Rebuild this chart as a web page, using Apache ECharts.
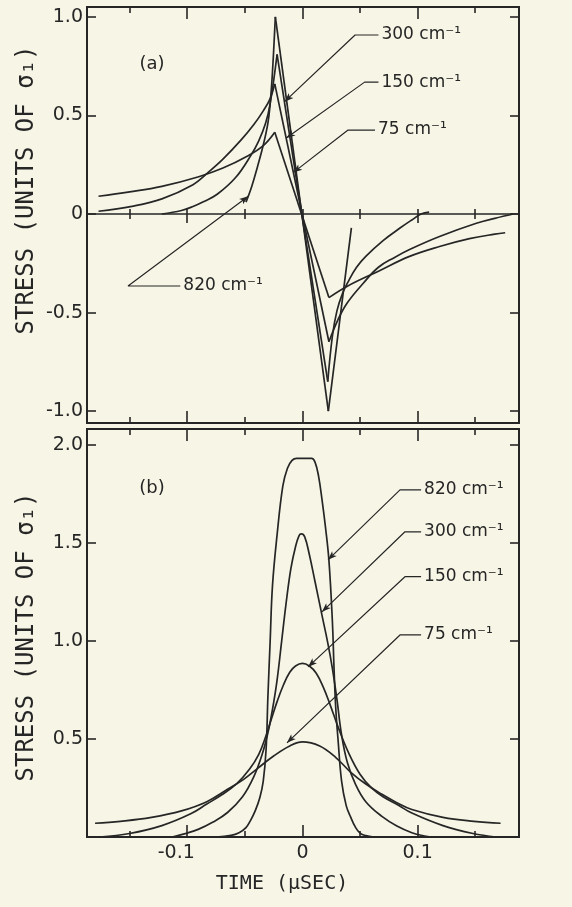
<!DOCTYPE html>
<html><head><meta charset="utf-8">
<script src="https://cdn.jsdelivr.net/npm/echarts@6/dist/echarts.min.js"></script>
<style>html,body{margin:0;padding:0;background:#f7f5e6;}#c{width:572px;height:907px;}</style>
</head><body><div id="c"></div>
<script>
// ---------------- data ----------------
const xMajorTicks = [-0.1, 0, 0.1];
const xMinorTicks = [-0.15, -0.05, 0.05, 0.15];
const xTickLabels = [-0.1, 0, 0.1];
const yTicksA = [-1, -0.5, 0, 0.5, 1];
const yTicksB = [0.5, 1, 1.5, 2];

// Panel (a): rising branch up to the peak, falling tail from the trough
const a75Rise  = [[-0.177,0.09],[-0.15,0.112],[-0.122,0.140],[-0.09,0.189],[-0.069,0.233],[-0.048,0.293],[-0.034,0.347],[-0.024,0.415]];
const a75Tail  = [[0.023,-0.424],[0.039,-0.366],[0.066,-0.29],[0.093,-0.215],[0.119,-0.165],[0.145,-0.125],[0.167,-0.102],[0.176,-0.095]];
const a150Rise = [[-0.177,0.014],[-0.148,0.039],[-0.122,0.077],[-0.095,0.149],[-0.082,0.21],[-0.069,0.278],[-0.053,0.377],[-0.042,0.455],[-0.034,0.523],[-0.028,0.585],[-0.024,0.66]];
const a150Tail = [[0.023,-0.648],[0.031,-0.534],[0.039,-0.45],[0.053,-0.35],[0.066,-0.27],[0.08,-0.22],[0.093,-0.18],[0.119,-0.114],[0.151,-0.047],[0.167,-0.022],[0.183,0.0]];
const a300Rise = [[-0.122,0.0],[-0.105,0.018],[-0.095,0.038],[-0.086,0.062],[-0.074,0.10],[-0.058,0.185],[-0.045,0.295],[-0.038,0.37],[-0.032,0.46],[-0.028,0.56],[-0.022,0.81]];
const a300Tail = [[0.022,-0.85],[0.026,-0.62],[0.030,-0.49],[0.035,-0.40],[0.040,-0.34],[0.047,-0.27],[0.055,-0.215],[0.070,-0.135],[0.085,-0.07],[0.095,-0.03],[0.103,0.0],[0.110,0.01]];
const a820Rise = [[-0.049,0.06],[-0.044,0.14],[-0.039,0.24],[-0.034,0.35],[-0.030,0.46],[-0.028,0.56],[-0.026,0.72],[-0.0235,1.0]];
const a820Tail = [[0.0225,-1.0],[0.0325,-0.535],[0.0425,-0.07]];

// Panel (b)
const b75  = [[-0.18,0.07],[-0.158,0.08],[-0.131,0.10],[-0.105,0.133],[-0.083,0.18],[-0.065,0.243],[-0.051,0.294],[-0.038,0.354],[-0.025,0.413],[-0.011,0.464],[0.0,0.485],[0.015,0.464],[0.029,0.405],[0.042,0.33],[0.055,0.27],[0.069,0.218],[0.082,0.175],[0.095,0.14],[0.122,0.10],[0.149,0.08],[0.172,0.07]];
const b150 = [[-0.176,0.0],[-0.15,0.018],[-0.122,0.058],[-0.097,0.118],[-0.083,0.168],[-0.070,0.215],[-0.057,0.272],[-0.046,0.345],[-0.038,0.42],[-0.032,0.51],[-0.027,0.60],[-0.022,0.69],[-0.0165,0.775],[-0.011,0.84],[-0.006,0.872],[0.0,0.885],[0.006,0.872],[0.012,0.835],[0.018,0.765],[0.024,0.675],[0.031,0.56],[0.040,0.43],[0.050,0.32],[0.060,0.25],[0.070,0.205],[0.083,0.163],[0.095,0.122],[0.122,0.058],[0.148,0.018],[0.168,0.0]];
const b300 = [[-0.113,0.0],[-0.100,0.02],[-0.090,0.04],[-0.078,0.075],[-0.065,0.125],[-0.052,0.205],[-0.042,0.31],[-0.035,0.42],[-0.030,0.53],[-0.026,0.65],[-0.022,0.80],[-0.018,1.0],[-0.014,1.20],[-0.010,1.37],[-0.006,1.48],[-0.003,1.535],[-0.001,1.545],[0.002,1.53],[0.006,1.44],[0.011,1.30],[0.017,1.13],[0.022,0.99],[0.026,0.86],[0.030,0.70],[0.034,0.52],[0.039,0.38],[0.046,0.27],[0.055,0.18],[0.069,0.105],[0.082,0.056],[0.095,0.022],[0.106,0.005],[0.112,0.0]];
const b820 = [[-0.075,0.0],[-0.062,0.008],[-0.055,0.022],[-0.049,0.048],[-0.045,0.085],[-0.041,0.133],[-0.037,0.2],[-0.034,0.285],[-0.0315,0.45],[-0.030,0.71],[-0.028,1.0],[-0.026,1.28],[-0.022,1.54],[-0.017,1.79],[-0.013,1.88],[-0.009,1.92],[-0.005,1.93],[0.0,1.93],[0.008,1.93],[0.011,1.91],[0.014,1.84],[0.017,1.72],[0.020,1.58],[0.023,1.41],[0.026,1.10],[0.0275,0.85],[0.029,0.65],[0.031,0.49],[0.034,0.285],[0.038,0.16],[0.042,0.10],[0.046,0.05],[0.050,0.02],[0.055,0.007],[0.062,0.0]];

// Label leader lines (data coordinates: tip on curve, elbow, start of text)
const leaderTextsA = ['300 cm⁻¹', '150 cm⁻¹', '75 cm⁻¹', '820 cm⁻¹'];
const leaderPtsA = [
  [[-0.0155,0.57],[0.0457,0.908],[0.066,0.908]],
  [[-0.014,0.385],[0.054,0.669],[0.066,0.669]],
  [[-0.008,0.21],[0.0396,0.426],[0.063,0.426]],
  [[-0.047,0.09],[-0.1514,-0.365],[-0.106,-0.365]]
];
const leaderTextsB = ['820 cm⁻¹', '300 cm⁻¹', '150 cm⁻¹', '75 cm⁻¹'];
const leaderPtsB = [
  [[0.0222,1.413],[0.0847,1.77],[0.103,1.77]],
  [[0.017,1.148],[0.089,1.556],[0.103,1.556]],
  [[0.0049,0.867],[0.089,1.327],[0.103,1.327]],
  [[-0.0134,0.48],[0.0847,1.03],[0.103,1.03]]
];

// ---------------- chart ----------------
const INK = '#262626';
const XMIN = -0.187, XMAX = 0.188;
const chart = echarts.init(document.getElementById('c'), null, {renderer: 'canvas'});

function xAx(grid, pos, ticks, len, opts) {
  return Object.assign({
    type: 'value', gridIndex: grid, position: pos, min: XMIN, max: XMAX,
    axisLine: {show: true, onZero: false, lineStyle: {color: INK, width: 2}},
    axisTick: {show: true, inside: true, length: len, customValues: ticks, lineStyle: {color: INK, width: 1.6}},
    axisLabel: {show: false}, splitLine: {show: false}
  }, opts || {});
}
function yAx(grid, pos, min, max, ticks, labels) {
  return {
    type: 'value', gridIndex: grid, position: pos, min: min, max: max,
    axisLine: {show: true, onZero: false, lineStyle: {color: INK, width: 2}},
    axisTick: {show: true, inside: true, length: 9, customValues: ticks, lineStyle: {color: INK, width: 1.6}},
    axisLabel: labels ? {show: true, customValues: ticks, margin: 4, fontFamily: 'DejaVu Sans', fontSize: 19, color: INK,
      formatter: v => v === 0 ? '0' : v.toFixed(1)} : {show: false},
    splitLine: {show: false}
  };
}

const xAxes = [
  xAx(0, 'bottom', xMajorTicks, 12),
  xAx(0, 'bottom', xMinorTicks, 6),
  xAx(0, 'top', xMajorTicks, 12),
  xAx(0, 'top', xMinorTicks, 6),
  // zero line of panel (a)
  xAx(0, 'bottom', xMajorTicks, 9, {axisLine: {show: true, onZero: true, onZeroAxisIndex: 0, lineStyle: {color: INK, width: 1.5}},
    axisTick: {show: true, inside: false, length: 9, customValues: xMajorTicks, lineStyle: {color: INK, width: 1.6}}}),
  xAx(0, 'bottom', xMinorTicks, 5, {axisLine: {show: false, onZero: true, onZeroAxisIndex: 0},
    axisTick: {show: true, inside: false, length: 5, customValues: xMinorTicks, lineStyle: {color: INK, width: 1.6}}}),
  xAx(0, 'bottom', xMajorTicks.concat(xMinorTicks), 5, {axisLine: {show: false, onZero: true, onZeroAxisIndex: 0},
    axisTick: {show: true, inside: true, length: 5, customValues: xMajorTicks.concat(xMinorTicks), lineStyle: {color: INK, width: 1.6}}}),
  // panel (b)
  xAx(1, 'bottom', xMajorTicks, 12, {axisLabel: {show: true, customValues: xTickLabels, margin: 7,
    fontFamily: 'DejaVu Sans', fontSize: 19, color: INK,
    formatter: v => v === 0 ? '0' : (v < 0 ? '{neg|' + v.toFixed(1) + '}' : v.toFixed(1)),
    rich: {neg: {padding: [0, 22, 0, 0], fontFamily: 'DejaVu Sans', fontSize: 19, color: INK}}}}),
  xAx(1, 'bottom', xMinorTicks, 6),
  xAx(1, 'top', xMajorTicks, 12),
  xAx(1, 'top', xMinorTicks, 6)
];
const yAxes = [
  yAx(0, 'left', -1.06, 1.05, yTicksA, true),
  yAx(0, 'right', -1.06, 1.05, yTicksA, false),
  yAx(1, 'left', 0, 2.08, yTicksB, true),
  yAx(1, 'right', 0, 2.08, yTicksB, false)
];

function line(data, xi, yi, smooth, width) {
  return {type: 'line', data: data, xAxisIndex: xi, yAxisIndex: yi, symbol: 'none', showSymbol: false,
    smooth: smooth ? 0.4 : false, silent: true, animation: false, z: 3,
    lineStyle: {color: INK, width: width || 1.7}};
}
const series = [];
[[a75Rise, a75Tail], [a150Rise, a150Tail], [a300Rise, a300Tail], [a820Rise, a820Tail]].forEach(([rise, tail]) => {
  series.push(line(rise, 0, 0, true));
  series.push(line([rise[rise.length - 1], tail[0]], 0, 0, false));
  series.push(line(tail, 0, 0, true));
});
[b75, b150, b300, b820].forEach(d => series.push(line(d, 7, 2, true)));

const leaderSeries = [];
function leader(pts, text, xi, yi) {
  const s = line(pts.slice(), xi, yi, false, 1.2);
  s.endLabel = {show: true, formatter: text, distance: 3, fontFamily: 'DejaVu Sans', fontSize: 17, color: INK};
  s.showSymbol = true;
  s.symbol = 'none';
  s.itemStyle = {color: INK};
  leaderSeries.push({s: s, pts: pts, xi: xi, yi: yi});
  return s;
}
leaderPtsA.forEach((p, i) => series.push(leader(p, leaderTextsA[i], 0, 0)));
leaderPtsB.forEach((p, i) => series.push(leader(p, leaderTextsB[i], 7, 2)));

const yTitle = 'STRESS (UNITS OF σ₁)';
chart.setOption({
  backgroundColor: '#f7f5e6',
  animation: false,
  grid: [
    {left: 87, top: 7, width: 432, height: 416, outerBoundsMode: 'none'},
    {left: 87, top: 429, width: 432, height: 408, outerBoundsMode: 'none'}
  ],
  xAxis: xAxes,
  yAxis: yAxes,
  series: series,
  graphic: [
    {type: 'text', x: 27, y: 190, rotation: Math.PI / 2, style: {text: yTitle, fontFamily: 'DejaVu Sans Mono', fontSize: 24, fill: INK, align: 'center', verticalAlign: 'middle'}},
    {type: 'text', x: 27, y: 637, rotation: Math.PI / 2, style: {text: yTitle, fontFamily: 'DejaVu Sans Mono', fontSize: 24, fill: INK, align: 'center', verticalAlign: 'middle'}},
    {type: 'text', x: 282, y: 884, style: {text: 'TIME (μSEC)', fontFamily: 'DejaVu Sans Mono', fontSize: 20, fill: INK, align: 'center', verticalAlign: 'middle'}},
    {type: 'text', x: 152, y: 64, style: {text: '(a)', fontFamily: 'DejaVu Sans', fontSize: 18, fill: INK, align: 'center', verticalAlign: 'middle'}},
    {type: 'text', x: 152, y: 488, style: {text: '(b)', fontFamily: 'DejaVu Sans', fontSize: 18, fill: INK, align: 'center', verticalAlign: 'middle'}}
  ]
});

// small arrowheads at the leader tips, oriented along each leader
const updated = chart.getOption().series.map(() => ({}));
const base = series.length - leaderSeries.length;
leaderSeries.forEach((L, k) => {
  const finder = {xAxisIndex: L.xi, yAxisIndex: L.yi};
  const p0 = chart.convertToPixel(finder, L.pts[0]);
  const p1 = chart.convertToPixel(finder, L.pts[1]);
  const ang = Math.atan2(-(p0[1] - p1[1]), p0[0] - p1[0]) * 180 / Math.PI - 90;
  updated[base + k] = {data: [
    {value: L.pts[0], symbol: 'arrow', symbolSize: [5, 9], symbolRotate: ang, symbolOffset: [0, 0]},
    {value: L.pts[1], symbol: 'none'},
    {value: L.pts[2], symbol: 'none'}
  ]};
});
chart.setOption({series: updated});
</script></body></html>
